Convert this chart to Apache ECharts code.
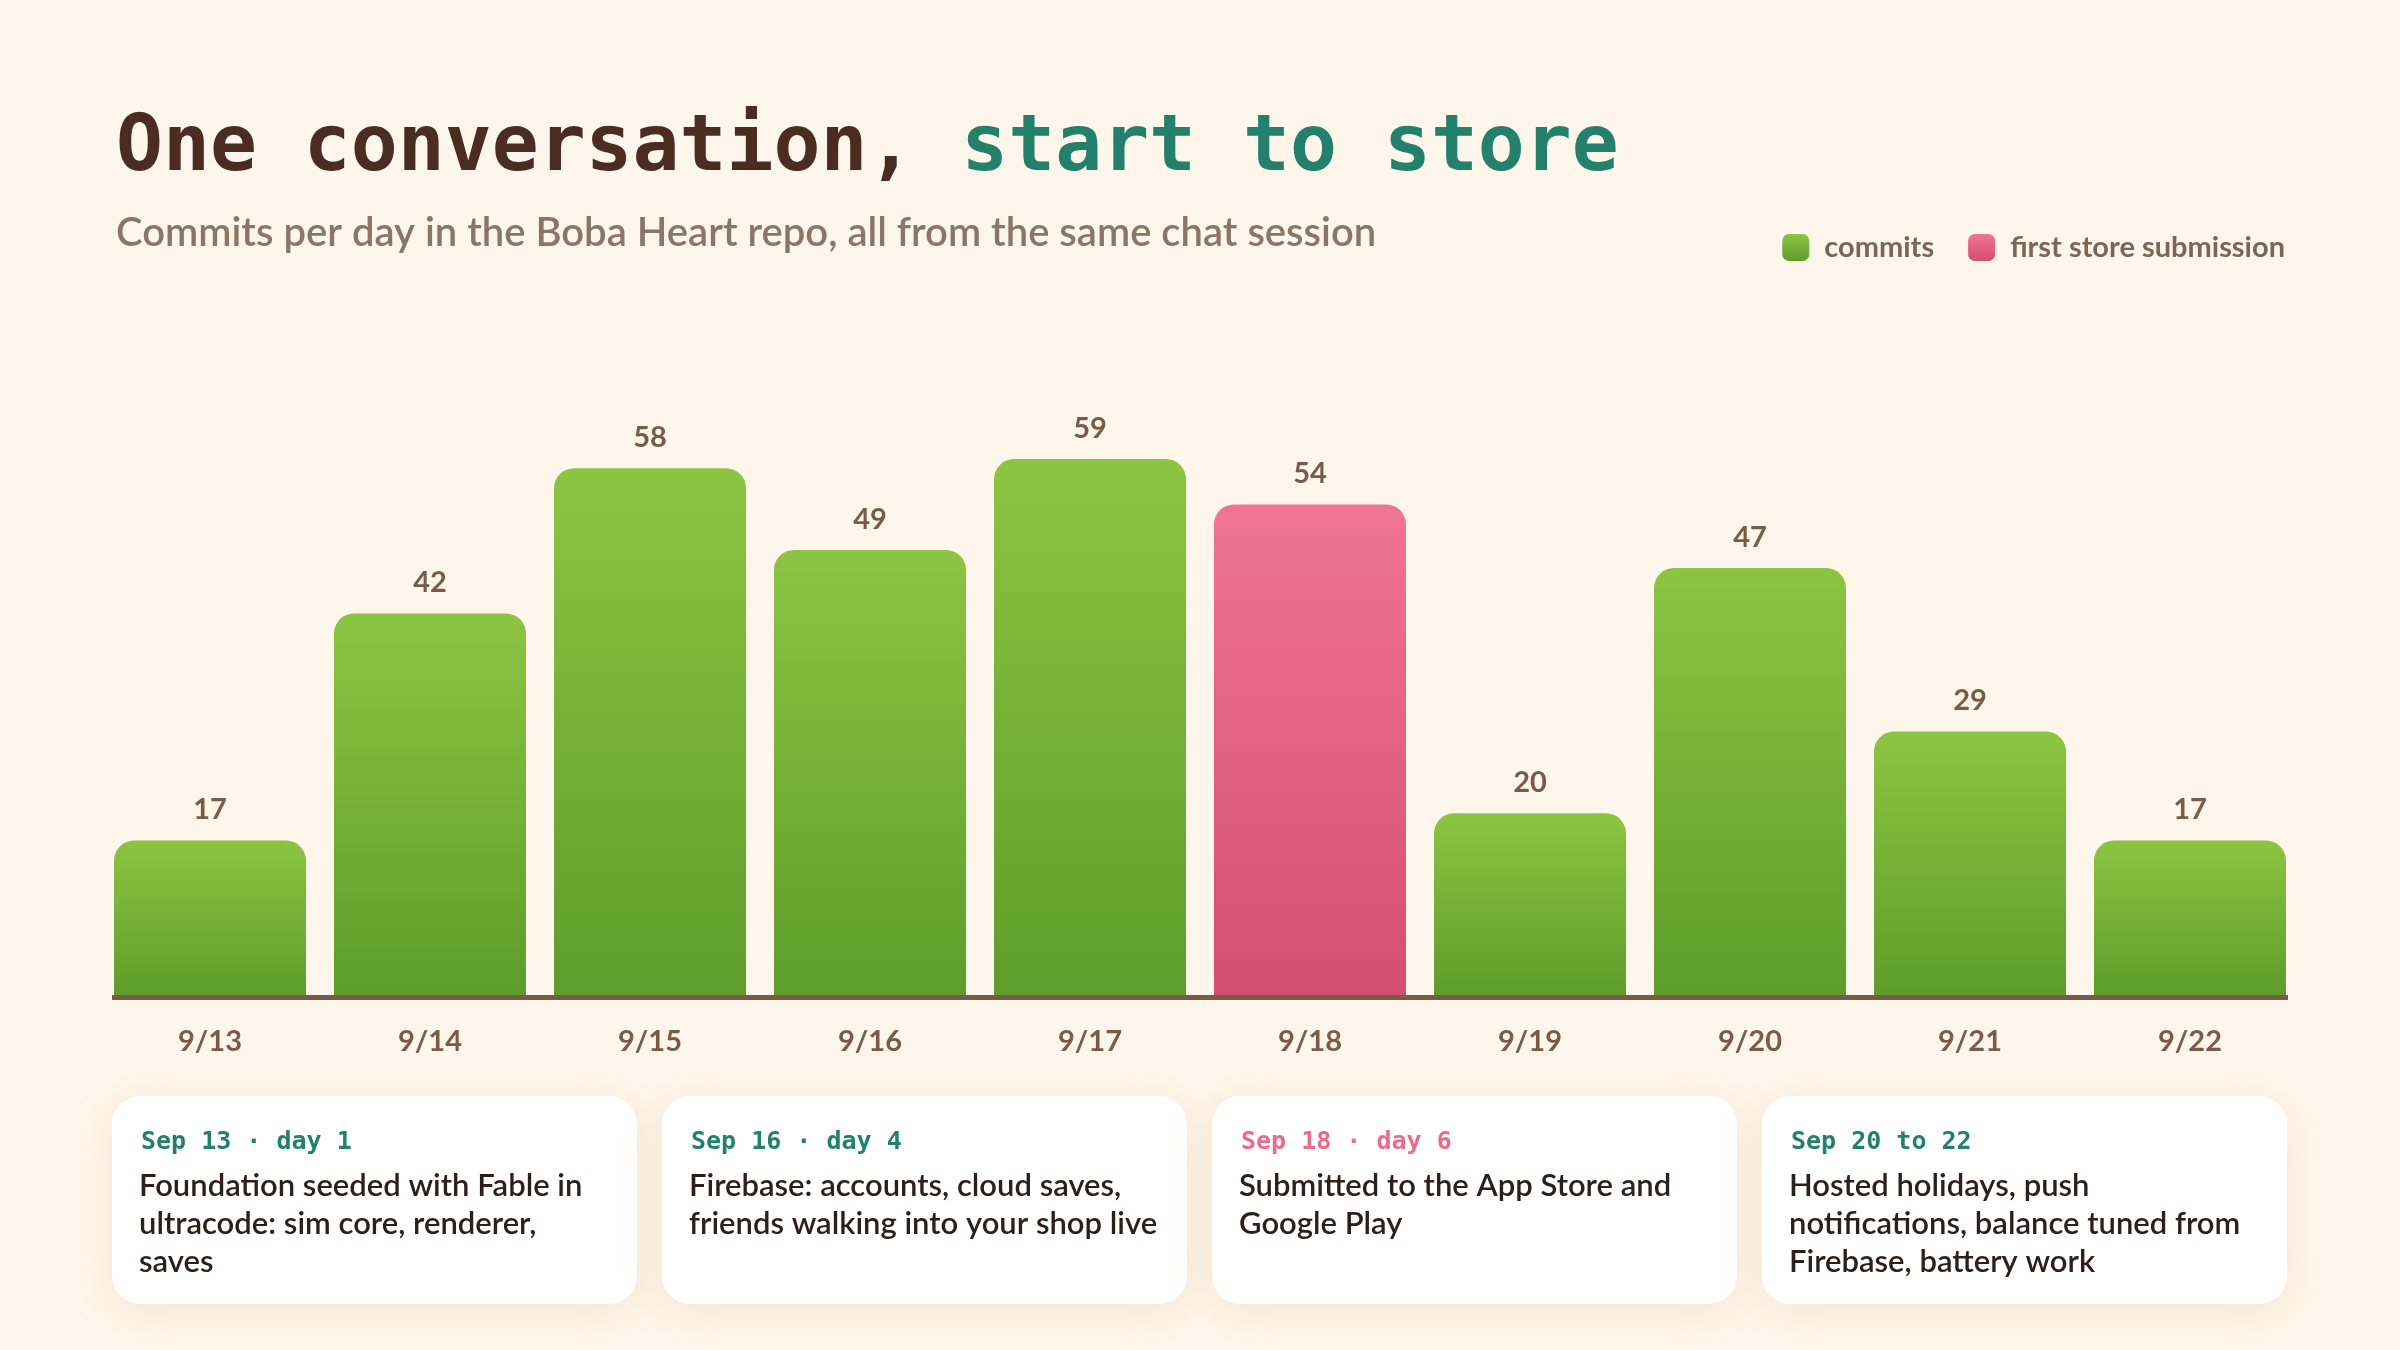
<!DOCTYPE html>
<html>
<head>
<meta charset="utf-8">
<script src="https://cdn.jsdelivr.net/npm/echarts@6/dist/echarts.min.js"></script>
<style>
html,body{margin:0;padding:0;background:#fef6ea;}
#chart{width:2400px;height:1350px;}
</style>
</head>
<body>
<div id="chart"></div>
<script>
const categories = ['9/13','9/14','9/15','9/16','9/17','9/18','9/19','9/20','9/21','9/22'];
const commits = [17, 42, 58, 49, 59, 54, 20, 47, 29, 17];
const storeDay = '9/18';
const seriesNames = ['commits', 'first store submission'];
const cardTitles = ['Sep 13 · day 1', 'Sep 16 · day 4', 'Sep 18 · day 6', 'Sep 20 to 22'];
const cardBodies = [
  ['Foundation seeded with Fable in', 'ultracode: sim core, renderer,', 'saves'],
  ['Firebase: accounts, cloud saves,', 'friends walking into your shop live'],
  ['Submitted to the App Store and', 'Google Play'],
  ['Hosted holidays, push', 'notifications, balance tuned from', 'Firebase, battery work']
];
const cardAccent = [false, false, true, false];

const BODY = 'Lato, "Noto Sans", sans-serif';
const PIX = '"DejaVu Sans Mono", monospace';
const BROWN = '#7a5a48';
const TEAL = '#23806b';
const PINK = '#ec6b8a';

const greenGrad = new echarts.graphic.LinearGradient(0,0,0,1,[{offset:0,color:'#8bc541'},{offset:1,color:'#5e9d2b'}]);
const pinkGrad = new echarts.graphic.LinearGradient(0,0,0,1,[{offset:0,color:'#ef7591'},{offset:1,color:'#d44e70'}]);

const greenData = categories.map((c,i) => c === storeDay ? '-' : commits[i]);
const pinkData = categories.map((c,i) => c === storeDay ? commits[i] : '-');

const labelCfg = {show:true, position:'top', distance:16, color:BROWN, fontFamily:BODY, fontWeight:'bold', fontSize:29};

// cards
const cardW = 525, cardH = 208, cardGap = 25, cardX0 = 112, cardY = 1096;
const cardGraphics = [];
cardTitles.forEach((t,i) => {
  const x = cardX0 + i*(cardW+cardGap);
  cardGraphics.push({
    type:'rect', left:x, top:cardY, z:1,
    shape:{width:cardW, height:cardH, r:28},
    style:{fill:'#ffffff', shadowBlur:40, shadowColor:'rgba(214,180,130,0.22)', shadowOffsetY:8}
  });
  cardGraphics.push({
    type:'text', x:x+29, y:cardY+46, z:2,
    style:{text:t, font:'bold 25px '+PIX, fill: cardAccent[i] ? PINK : TEAL, verticalAlign:'middle'}
  });
  cardGraphics.push({
    type:'text', x:x+27, y:cardY+71, z:2,
    style:{text:cardBodies[i].join('\n'), font:'600 31px '+BODY, fill:'#2b201c', lineHeight:38, verticalAlign:'top'}
  });
});

const chart = echarts.init(document.getElementById('chart'));
chart.setOption({
  backgroundColor:'#fef6ea',
  animation:false,
  grid:{left:100, right:100, top:450, bottom:355},
  legend:{
    data:seriesNames, right:110, top:228, itemWidth:27, itemHeight:27, itemGap:34, icon:'roundRect',
    textStyle:{fontFamily:BODY, fontWeight:'bold', fontSize:29, color:'#7b6557', padding:[0,0,0,10]}
  },
  xAxis:{
    type:'category', data:categories,
    axisLine:{show:false}, axisTick:{show:false},
    axisLabel:{color:BROWN, fontFamily:BODY, fontWeight:'bold', fontSize:29, margin:32}
  },
  yAxis:{type:'value', min:0, max:60, show:false, splitLine:{show:false}},
  series:[
    {name:seriesNames[0], type:'bar', stack:'a', data:greenData, barWidth:192,
     itemStyle:{color:greenGrad, borderRadius:[20,20,0,0]}, label:labelCfg},
    {name:seriesNames[1], type:'bar', stack:'a', data:pinkData, barWidth:192,
     itemStyle:{color:pinkGrad, borderRadius:[20,20,0,0]}, label:labelCfg}
  ],
  graphic:[
    {type:'text', x:116, y:150, style:{
      text:'{a|One conversation, }{b|start to store}', verticalAlign:'middle',
      rich:{
        a:{font:'bold 78px '+PIX, fill:'#4a2c22'},
        b:{font:'bold 78px '+PIX, fill:TEAL}
      }}},
    {type:'text', x:116, y:233, style:{text:'Commits per day in the Boba Heart repo, all from the same chat session',
      font:'600 40px '+BODY, fill:'#8a7566', verticalAlign:'middle'}},
    {type:'rect', left:112, top:995, z:5, shape:{width:2176, height:5}, style:{fill:'#7a5a48'}}
  ].concat(cardGraphics)
});
</script>
</body>
</html>
